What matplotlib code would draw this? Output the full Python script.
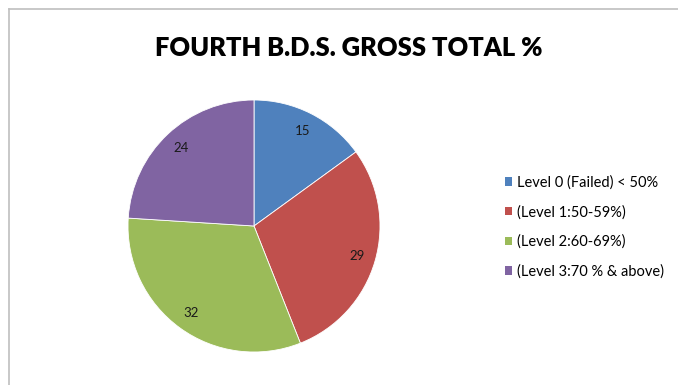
import matplotlib
matplotlib.use("Agg")
import matplotlib.pyplot as plt
from matplotlib.lines import Line2D
from matplotlib.patches import Patch

categories = ["Level 0 (Failed) < 50%", "(Level 1:50-59%)", "(Level 2:60-69%)", "(Level 3:70 % & above)"]
values = [15, 29, 32, 24]
colors = ["#4F81BD", "#C0504D", "#9BBB59", "#8064A2"]
title = "FOURTH B.D.S. GROSS TOTAL %"

plt.rcParams['font.family'] = ['Lato', 'DejaVu Sans']

W, H = 678, 385
fig = plt.figure(figsize=(W / 100, H / 100), dpi=100)
fig.patch.set_facecolor("white")

# frame border (left and top visible)
fig.add_artist(Line2D([9 / W, 9 / W], [0, 1 - 9 / H], transform=fig.transFigure, color="#BFBFBF", lw=1.2))
fig.add_artist(Line2D([9 / W, 1], [1 - 9 / H, 1 - 9 / H], transform=fig.transFigure, color="#BFBFBF", lw=1.2))

cx, cy, R = 254, 226, 126
ax = fig.add_axes([(cx - R) / W, (H - cy - R) / H, 2 * R / W, 2 * R / H])
wedges, texts = ax.pie(values, colors=colors, startangle=90, counterclock=False,
                       labels=[str(v) for v in values], labeldistance=0.85,
                       wedgeprops=dict(linewidth=0.6, edgecolor="white"),
                       textprops=dict(fontsize=9.5, color="#1a1a1a"))
for t in texts:
    t.set_horizontalalignment("center")
    t.set_verticalalignment("center")
ax.set_xlim(-1, 1)
ax.set_ylim(-1, 1)
ax.set_aspect("equal")
ax.axis("off")

fig.text(349 / W, 1 - 48 / H, title, ha="center", va="center", fontsize=18.4, fontweight="heavy", color="black")

handles = [Patch(facecolor=c, edgecolor="none") for c in colors]
fig.legend(handles, categories, loc="center left", bbox_to_anchor=(505 / W, 1 - 227 / H),
           frameon=False, fontsize=10.5, labelspacing=1.05, handlelength=0.5, handleheight=0.5,
           handletextpad=0.35, borderpad=0, borderaxespad=0)

fig.savefig("out.png", dpi=100)
